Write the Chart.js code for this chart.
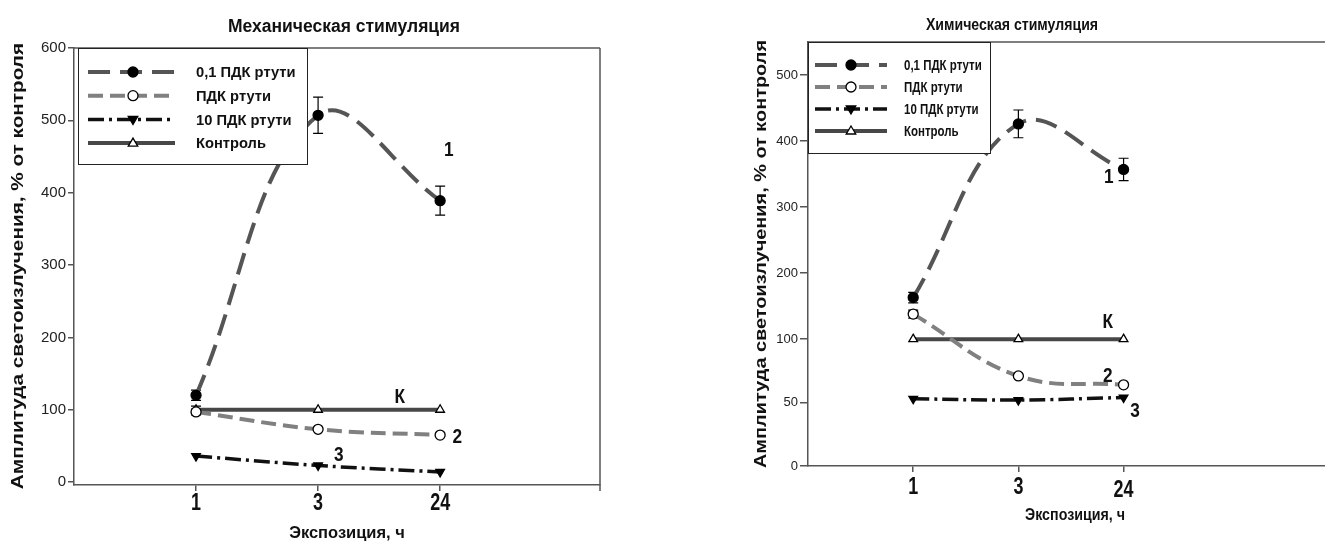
<!DOCTYPE html>
<html>
<head>
<meta charset="utf-8">
<script src="https://cdn.jsdelivr.net/npm/chart.js@4.4.1/dist/chart.umd.min.js"></script>
<style>
  html, body { margin: 0; padding: 0; background: #fff; overflow: hidden; }
  #wrap { position: relative; width: 1325px; height: 542px; overflow: hidden; }
  #mech { position: absolute; left: 0; top: 0; }
  #chem { position: absolute; left: 690px; top: 0; }
</style>
</head>
<body>
<div id="wrap">
  <canvas id="mech" width="690" height="542"></canvas>
  <canvas id="chem" width="645" height="542"></canvas>
</div>
<script>
// ── Data ────────────────────────────────────────────────────────────────────
const X_LABELS = ['1', '3', '24'];
const SERIES_LABELS = ['0,1 ПДК ртути', 'ПДК ртути', '10 ПДК ртути', 'Контроль'];

// Механическая стимуляция
const MECH_01      = [120, 507, 389];
const MECH_01_ERR  = [7, 25, 20];
const MECH_1       = [97, 73, 65];
const MECH_1_ERR   = [4, 0, 0];
const MECH_10      = [36, 23, 14];
const MECH_10_ERR  = [0, 0, 0];
const MECH_CTRL    = [100, 100, 100];
const MECH_CTRL_ERR = [5, 0, 0];
const MECH_Y_TICKS = [0, 100, 200, 300, 400, 500, 600];

// Химическая стимуляция
const CHEM_01      = [163, 426, 357];
const CHEM_01_ERR  = [8, 21, 17];
const CHEM_1       = [138, 71, 64];
const CHEM_1_ERR   = [6, 0, 0];
const CHEM_10      = [53, 52, 54];
const CHEM_10_ERR  = [0, 0, 0];
const CHEM_CTRL    = [100, 100, 100];
const CHEM_CTRL_ERR = [0, 0, 0];
const CHEM_Y_TICKS = [0, 50, 100, 200, 300, 400, 500];

// curve numbers (text, x in category units, y in %)
const MECH_NOTES   = ['1', 'К', '2', '3'];
const MECH_NOTES_X = [3.07, 2.67, 3.14, 2.17];
const MECH_NOTES_Y = [459, 118, 62, 37];
const CHEM_NOTES   = ['1', 'К', '2', '3'];
const CHEM_NOTES_X = [2.86, 2.85, 2.85, 3.11];
const CHEM_NOTES_Y = [346, 126, 71, 43];

const Y_TITLE = 'Амплитуда светоизлучения, % от контроля';
const X_TITLE = 'Экспозиция, ч';

// ── Styles ──────────────────────────────────────────────────────────────────
const FONT = "'Liberation Sans', Arial, sans-serif";
const AXIS = '#555';

const STYLES = [
  { color: '#555555', width: 4,   dash: [22, 10],       point: 'circle',   rot: 0,   fill: '#000' },
  { color: '#808080', width: 4,   dash: [15, 7],        point: 'circle',   rot: 0,   fill: '#fff' },
  { color: '#111111', width: 3.5, dash: [16, 5, 3, 5],  point: 'triangle', rot: 180, fill: '#000' },
  { color: '#474747', width: 4,   dash: [],             point: 'triangle', rot: 0,   fill: '#fff' }
];

// the chemical chart has a broken y axis: 0–100 stretched, 100–500 compressed
const linearY = v => v;
const brokenY = v => v <= 100 ? v * 0.0192 : 1.92 + (v - 100) / 100;

function makeDatasets(series, errs, ty) {
  return series.map((vals, i) => ({
    label: SERIES_LABELS[i],
    data: vals.map((v, j) => ({ x: j + 1, y: ty(v) })),
    raw: vals,
    err: errs[i],
    borderColor: STYLES[i].color,
    borderWidth: STYLES[i].width,
    borderDash: STYLES[i].dash,
    tension: 0.4,
    fill: false,
    pointStyle: STYLES[i].point,
    rotation: STYLES[i].rot,
    pointRadius: 5,
    pointBackgroundColor: STYLES[i].fill,
    pointBorderColor: '#000',
    pointBorderWidth: 1.3
  }));
}

// ── Helpers ─────────────────────────────────────────────────────────────────
function marker(ctx, s, x, y, r) {
  ctx.save();
  ctx.setLineDash([]);
  ctx.fillStyle = s.fill;
  ctx.strokeStyle = '#000';
  ctx.lineWidth = 1.3;
  ctx.beginPath();
  if (s.point === 'circle') {
    ctx.arc(x, y, r, 0, Math.PI * 2);
  } else {
    const d = s.rot === 180 ? -1 : 1;
    ctx.moveTo(x, y - d * r);
    ctx.lineTo(x + r * 0.95, y + d * r * 0.6);
    ctx.lineTo(x - r * 0.95, y + d * r * 0.6);
    ctx.closePath();
  }
  ctx.fill();
  ctx.stroke();
  ctx.restore();
}

// text with horizontal stretch (the original uses a narrow/stretched face)
function stretchText(ctx, text, x, y, size, sx, rot, align) {
  ctx.save();
  ctx.translate(x, y);
  if (rot) ctx.rotate(rot);
  ctx.scale(sx, 1);
  ctx.font = `bold ${size}px ${FONT}`;
  ctx.fillStyle = '#111';
  ctx.textAlign = align || 'center';
  ctx.textBaseline = 'middle';
  ctx.fillText(text, 0, 0);
  ctx.restore();
}

// ── Plugins (per chart, built by closures) ──────────────────────────────────
function errorBars(ty) {
  return {
    id: 'errbars',
    beforeDatasetsDraw(chart) {
      const ctx = chart.ctx, xs = chart.scales.x, ys = chart.scales.y;
      ctx.save();
      ctx.strokeStyle = '#000';
      ctx.lineWidth = 1.2;
      chart.data.datasets.forEach(ds => {
        ds.raw.forEach((v, j) => {
          const e = ds.err[j];
          if (!e) return;
          const x = xs.getPixelForValue(j + 1);
          const y1 = ys.getPixelForValue(ty(v + e));
          const y2 = ys.getPixelForValue(ty(v - e));
          ctx.beginPath();
          ctx.moveTo(x, y1); ctx.lineTo(x, y2);
          ctx.moveTo(x - 5, y1); ctx.lineTo(x + 5, y1);
          ctx.moveTo(x - 5, y2); ctx.lineTo(x + 5, y2);
          ctx.stroke();
        });
      });
      ctx.restore();
    }
  };
}

function frame(drawRight) {
  return {
    id: 'frame',
    afterDraw(chart) {
      const { ctx, chartArea: a } = chart;
      ctx.save();
      ctx.strokeStyle = AXIS;
      ctx.lineWidth = 1.5;
      ctx.beginPath();
      ctx.moveTo(a.left, a.top); ctx.lineTo(a.right, a.top);
      if (drawRight) {
        ctx.moveTo(a.right, a.top); ctx.lineTo(a.right, a.bottom + 6);
      }
      ctx.stroke();
      ctx.restore();
    }
  };
}

function notes(texts, xsv, ysv, ty) {
  return {
    id: 'notes',
    afterDatasetsDraw(chart) {
      const ctx = chart.ctx, xs = chart.scales.x, ys = chart.scales.y;
      texts.forEach((t, i) => {
        stretchText(ctx, t, xs.getPixelForValue(xsv[i]), ys.getPixelForValue(ty(ysv[i])), 21, 0.82);
      });
    }
  };
}

// titles + narrow bold x tick labels
function titles(t) {
  return {
    id: 'titles',
    afterDraw(chart) {
      const ctx = chart.ctx, xs = chart.scales.x, a = chart.chartArea;
      stretchText(ctx, t.title, t.tx, t.ty, t.tSize, t.tsx);
      stretchText(ctx, Y_TITLE, t.yx, t.yy, 17, t.ysx, -Math.PI / 2);
      stretchText(ctx, X_TITLE, t.xx, t.xy, 16, t.xsx);
      X_LABELS.forEach((lab, i) => {
        stretchText(ctx, lab, xs.getPixelForValue(i + 1), a.bottom + t.tickDy + (i === 2 ? t.lastDy : 0), 23, 0.78);
      });
    }
  };
}

function legendBox(cfg) {
  return {
    id: 'legendBox',
    afterDraw(chart) {
      const { ctx, chartArea: a } = chart;
      const bx = a.left + cfg.dx, by = a.top;
      ctx.save();
      ctx.fillStyle = '#fff';
      ctx.fillRect(bx, by, cfg.w, cfg.h);
      ctx.strokeStyle = '#222';
      ctx.lineWidth = 1;
      ctx.strokeRect(bx + 0.5, by + 0.5, cfg.w, cfg.h);
      SERIES_LABELS.forEach((label, i) => {
        const s = STYLES[i];
        const y = by + cfg.row0 + i * cfg.rowH;
        ctx.save();
        ctx.strokeStyle = s.color;
        ctx.lineWidth = s.width;
        ctx.setLineDash(s.dash);
        ctx.beginPath();
        ctx.moveTo(bx + cfg.s0, y);
        ctx.lineTo(bx + cfg.s1, y);
        ctx.stroke();
        ctx.restore();
        marker(ctx, s, bx + cfg.mx, y, 5);
        stretchText(ctx, label, bx + cfg.tx, y + 1, cfg.font, cfg.fsx, 0, 'left');
      });
      ctx.restore();
    }
  };
}

// ── Chart factory ───────────────────────────────────────────────────────────
function buildChart(canvasId, o) {
  return new Chart(document.getElementById(canvasId), {
    type: 'line',
    data: { datasets: makeDatasets(o.series, o.errs, o.ty) },
    options: {
      responsive: false,
      animation: false,
      devicePixelRatio: 1,
      layout: { padding: o.padding },
      plugins: {
        legend: { display: false },
        tooltip: { enabled: false },
        title: { display: false }
      },
      scales: {
        x: {
          type: 'linear', min: 0, max: o.xMax,
          afterBuildTicks: s => { s.ticks = X_LABELS.map((_, i) => ({ value: i + 1 })); },
          afterFit: s => { s.height = o.xHeight; },
          grid: { drawOnChartArea: false, tickLength: 6, color: AXIS, lineWidth: 1.5 },
          border: { color: AXIS, width: 1.5 },
          ticks: { display: false }
        },
        y: {
          type: 'linear', min: o.yMin, max: o.yMax,
          afterBuildTicks: s => { s.ticks = o.yTicks.map(v => ({ value: o.ty(v) })); },
          afterFit: s => { s.width = o.yWidth; },
          grid: { drawOnChartArea: false, tickLength: o.yTick, color: AXIS, lineWidth: 1.5 },
          border: { color: AXIS, width: 1.5 },
          ticks: {
            callback: (v, i) => String(o.yTicks[i]), autoSkip: false,
            color: '#222', padding: 2, font: { family: FONT, size: o.yFontSize }
          }
        }
      }
    },
    plugins: [errorBars(o.ty), frame(o.rightBorder), notes(o.notes, o.notesX, o.notesY, o.ty),
              legendBox(o.legend), titles(o.text)]
  });
}

buildChart('mech', {
  series: [MECH_01, MECH_1, MECH_10, MECH_CTRL],
  errs: [MECH_01_ERR, MECH_1_ERR, MECH_10_ERR, MECH_CTRL_ERR],
  ty: linearY,
  yMin: -4, yMax: 600, yTicks: MECH_Y_TICKS,
  xMax: 4.31,
  padding: { left: 0, right: 90, top: 48, bottom: 0 },
  xHeight: 57,
  yWidth: 74, yTick: 6, yFontSize: 15,
  rightBorder: true,
  notes: MECH_NOTES, notesX: MECH_NOTES_X, notesY: MECH_NOTES_Y,
  legend: { dx: 4, w: 229, h: 116, row0: 24, rowH: 23.7, s0: 10, s1: 97, mx: 55, tx: 118, font: 15, fsx: 0.98 },
  text: { title: 'Механическая стимуляция', tx: 344, ty: 27, tSize: 17.5, tsx: 1,
          yx: 18, yy: 266, ysx: 1.22, xx: 347, xy: 534, xsx: 1.03, tickDy: 19, lastDy: 0 }
});

buildChart('chem', {
  series: [CHEM_01, CHEM_1, CHEM_10, CHEM_CTRL],
  errs: [CHEM_01_ERR, CHEM_1_ERR, CHEM_10_ERR, CHEM_CTRL_ERR],
  ty: brokenY,
  yMin: 0, yMax: brokenY(550), yTicks: CHEM_Y_TICKS,
  xMax: 4.95,
  padding: { left: 52, right: 0, top: 42, bottom: 0 },
  xHeight: 76,
  yWidth: 66, yTick: 8, yFontSize: 13,
  rightBorder: false,
  notes: CHEM_NOTES, notesX: CHEM_NOTES_X, notesY: CHEM_NOTES_Y,
  legend: { dx: 0, w: 182, h: 111, row0: 23, rowH: 22, s0: 7, s1: 79, mx: 43, tx: 96, font: 14, fsx: 0.82 },
  text: { title: 'Химическая стимуляция', tx: 322, ty: 25, tSize: 17, tsx: 0.83,
          yx: 71, yy: 254, ysx: 1.17, xx: 385, xy: 516, xsx: 0.89, tickDy: 22, lastDy: 3 }
});
</script>
</body>
</html>
